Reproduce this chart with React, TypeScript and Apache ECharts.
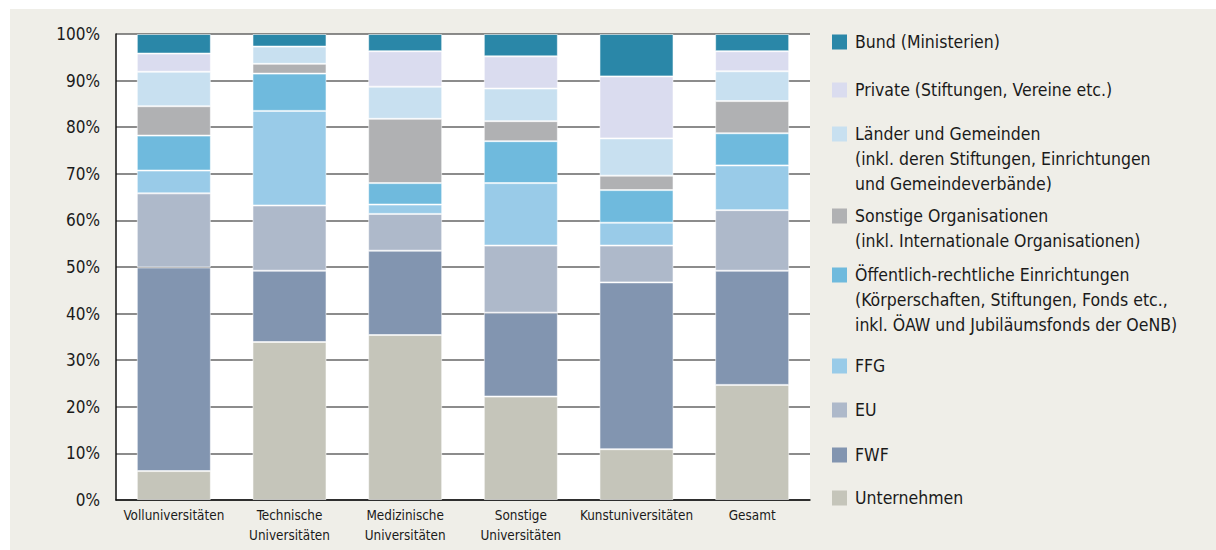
import React, { useEffect, useRef } from "react";
import * as echarts from "echarts";

const CATEGORIES = [
  "Volluniversitäten",
  "Technische\nUniversitäten",
  "Medizinische\nUniversitäten",
  "Sonstige\nUniversitäten",
  "Kunstuniversitäten",
  "Gesamt",
];

const Y_TICKS = [0, 10, 20, 30, 40, 50, 60, 70, 80, 90, 100];

// stacked bottom -> top
const UNTERNEHMEN = [6.2, 33.9, 35.4, 22.2, 10.9, 24.7];
const FWF = [43.7, 15.3, 18.1, 18.0, 35.8, 24.5];
const EU = [15.9, 14.0, 7.9, 14.4, 7.9, 13.0];
const FFG = [4.9, 20.3, 2.0, 13.4, 4.9, 9.6];
const OEFFENTLICH = [7.5, 8.0, 4.6, 9.0, 7.0, 6.9];
const SONSTIGE_ORG = [6.3, 2.1, 13.8, 4.3, 3.1, 6.9];
const LAENDER = [7.4, 3.7, 6.9, 7.0, 8.0, 6.4];
const PRIVATE = [3.9, 0, 7.6, 6.9, 13.3, 4.3];
const BUND = [4.2, 2.7, 3.7, 4.8, 9.1, 3.7];

const SERIES_NAMES = [
  "Unternehmen",
  "FWF",
  "EU",
  "FFG",
  "Öffentlich-rechtliche Einrichtungen",
  "Sonstige Organisationen",
  "Länder und Gemeinden",
  "Private (Stiftungen, Vereine etc.)",
  "Bund (Ministerien)",
];

const SERIES_VALUES = [
  UNTERNEHMEN,
  FWF,
  EU,
  FFG,
  OEFFENTLICH,
  SONSTIGE_ORG,
  LAENDER,
  PRIVATE,
  BUND,
];

const COLORS = [
  "#C5C5BA",
  "#8295B0",
  "#AEB9CA",
  "#99CBE8",
  "#6FBADD",
  "#B0B1B3",
  "#C8E0F0",
  "#DADCEF",
  "#2A87A8",
];

// legend texts, top -> bottom
const LEGEND_LABELS = [
  "Bund (Ministerien)",
  "Private (Stiftungen, Vereine etc.)",
  "Länder und Gemeinden\n(inkl. deren Stiftungen, Einrichtungen\nund Gemeindeverbände)",
  "Sonstige Organisationen\n(inkl. Internationale Organisationen)",
  "Öffentlich-rechtliche Einrichtungen\n(Körperschaften, Stiftungen, Fonds etc.,\ninkl. ÖAW und Jubiläumsfonds der OeNB)",
  "FFG",
  "EU",
  "FWF",
  "Unternehmen",
];
const LEGEND_COLOR_INDEX = [8, 7, 6, 5, 4, 3, 2, 1, 0];
const LEGEND_Y = [42, 90, 134, 216, 275, 366, 410, 455, 498];

const FONT = "'Liberation Sans Narrow', 'DejaVu Sans Condensed', 'Roboto', sans-serif";
const TEXT_COLOR = "#1a1a1a";

export default function App() {
  const ref = useRef<HTMLDivElement>(null);

  useEffect(() => {
    if (!ref.current) return;
    const chart = echarts.init(ref.current, undefined, { renderer: "svg" });

    const legendGraphics: any[] = [];
    LEGEND_LABELS.forEach((label, i) => {
      const cy = LEGEND_Y[i];
      legendGraphics.push({
        type: "rect",
        shape: { x: 832, y: cy - 7.5, width: 15, height: 15 },
        style: { fill: COLORS[LEGEND_COLOR_INDEX[i]] },
        z: 10,
      });
      legendGraphics.push({
        type: "text",
        x: 855,
        y: cy - 12.5,
        style: {
          text: label,
          fill: TEXT_COLOR,
          fontFamily: FONT,
          fontSize: 17.5,
          lineHeight: 25,
          verticalAlign: "top",
          align: "left",
        },
        z: 10,
      });
    });

    chart.setOption({
      animation: false,
      backgroundColor: "#ffffff",
      graphic: [
        {
          type: "rect",
          shape: { x: 10, y: 9, width: 1206, height: 541 },
          style: { fill: "#EFEEE8" },
          z: -10,
          silent: true,
        },
        ...legendGraphics,
      ],
      grid: {
        left: 116,
        right: 406,
        top: 34,
        bottom: 50,
        show: true,
        backgroundColor: "#ffffff",
        borderWidth: 0,
        containLabel: false,
      },
      xAxis: {
        type: "category",
        data: CATEGORIES,
        axisLine: { lineStyle: { color: "#111", width: 1.5 } },
        axisTick: { show: false },
        axisLabel: {
          color: TEXT_COLOR,
          fontFamily: FONT,
          fontSize: 13.4,
          lineHeight: 20,
          margin: 5,
          interval: 0,
        },
      },
      yAxis: {
        type: "value",
        min: 0,
        max: 100,
        interval: 10,
        axisLine: { show: true, lineStyle: { color: "#111", width: 1.5 } },
        axisTick: { show: false },
        axisLabel: {
          color: TEXT_COLOR,
          fontFamily: FONT,
          fontSize: 17,
          margin: 16,
          formatter: (v: number) => (Y_TICKS.includes(v) ? `${v}%` : ""),
        },
        splitLine: { lineStyle: { color: "#666", width: 1.5 } },
      },
      series: SERIES_NAMES.map((name, i) => ({
        name,
        type: "bar",
        stack: "total",
        barWidth: "64%",
        data: SERIES_VALUES[i],
        itemStyle: {
          color: COLORS[i],
          borderColor: "rgba(255,255,255,0.55)",
          borderWidth: 1,
        },
      })),
    });

    return () => chart.dispose();
  }, []);

  return (
    <div
      ref={ref}
      style={{ position: "absolute", left: 0, top: 0, width: 1216, height: 550 }}
    />
  );
}
